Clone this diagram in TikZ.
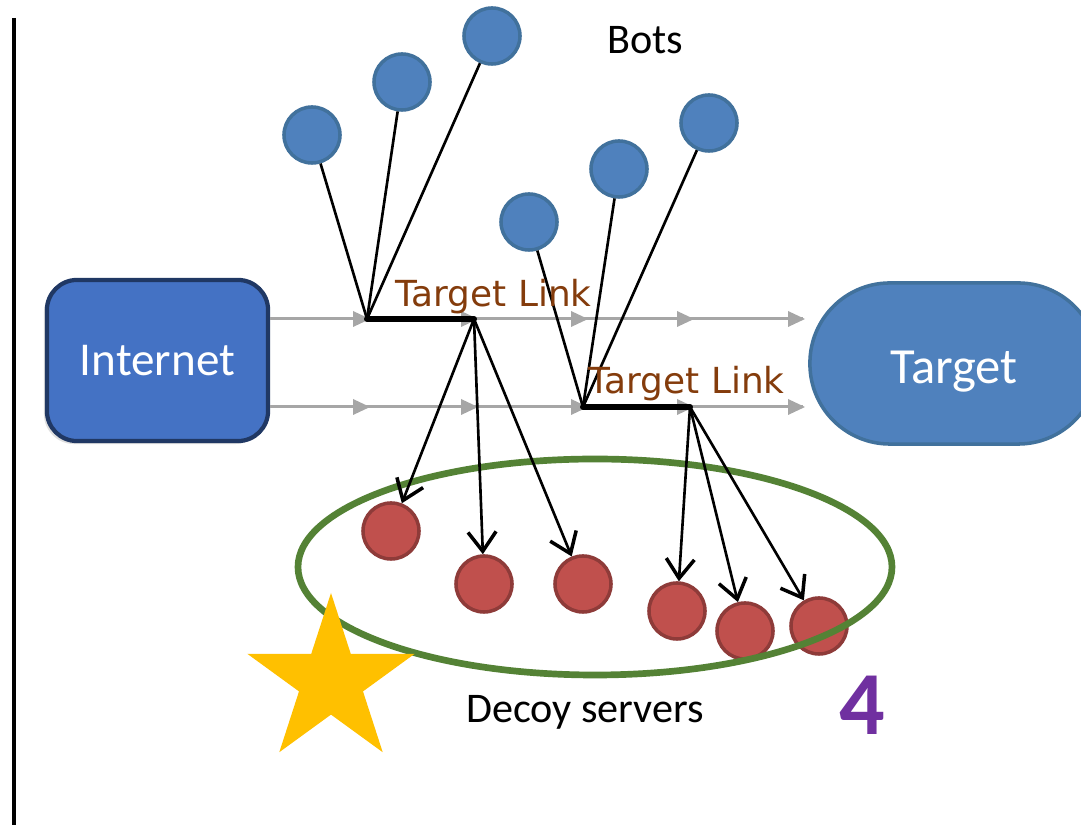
\documentclass[tikz,border=0pt]{standalone}
\usepackage{fontspec}
\usetikzlibrary{arrows.meta,shadows}
\newfontfamily\calib{Carlito}
\newfontfamily\dvs{DejaVu Sans}
\definecolor{inetfill}{HTML}{4472C4}
\definecolor{inetedge}{HTML}{203864}
\definecolor{blufill}{HTML}{4F81BD}
\definecolor{bluedge}{HTML}{41719C}
\definecolor{redfill}{HTML}{C0504D}
\definecolor{rededge}{HTML}{8E3B39}
\definecolor{linkbrown}{HTML}{843C0C}
\definecolor{flowgray}{HTML}{A6A6A6}
\definecolor{setgreen}{HTML}{548235}
\definecolor{stargold}{HTML}{FFC000}
\definecolor{numpurple}{HTML}{7030A0}
\tikzset{
  bot/.style={circle, fill=blufill, draw=bluedge, line width=1pt, minimum size=0.56cm, inner sep=0pt},
  decoy/.style={circle, fill=redfill, draw=rededge, line width=1pt, minimum size=0.56cm, inner sep=0pt},
  feed/.style={draw=black, line width=0.75pt},
  hop/.style={draw=black, line width=0.75pt, -{Straight Barb[length=5.5pt,width=8pt,line width=1pt]}},
  linkseg/.style={draw=black, line width=1.7pt, line cap=round},
  flow/.style={draw=flowgray, line width=0.85pt},
  linklabel/.style={anchor=base west, inner sep=0pt, text=linkbrown, font=\dvs\fontsize{10.2}{12}\selectfont},
  caption/.style={inner sep=0pt, font=\calib\fontsize{12}{14}\selectfont}
}
\begin{document}
\begin{tikzpicture}[x=0.01cm, y=-0.01cm]
\clip (0,0) rectangle (1081,825);
\fill[white] (0,0) rectangle (1081,825);

% frame rule on the left
\draw[line width=1.1pt] (14,18) -- (14,825);

% end hosts
\node[draw=inetedge, fill=inetfill, line width=1.2pt, rounded corners=0.3cm,
      minimum width=2.21cm, minimum height=1.61cm, inner sep=0pt,
      drop shadow={shadow xshift=-0.03cm, shadow yshift=-0.03cm, opacity=0.25},
      text=white, font=\calib\fontsize{13.4}{16}\selectfont] (inet) at (157.5,360.5) {Internet};
\node[draw=bluedge, fill=blufill, line width=1pt, rounded corners=0.8cm,
      minimum width=2.88cm, minimum height=1.61cm, inner sep=0pt,
      text=white, font=\calib\fontsize{14.4}{17}\selectfont] (tgt) at (954,363.5)
      {\raisebox{-5.6pt}[0pt][0pt]{Target}};

% traffic paths between the two hosts
\coordinate (f1s) at (inet.east |- 0,319);
\coordinate (f1e) at (803,319);
\coordinate (f2s) at (inet.east |- 0,407);
\coordinate (f2e) at (803,407);
\draw[flow] (f1s) -- (f1e);
\draw[flow] (f2s) -- (f2e);
\foreach \y in {319,407}{
  \foreach \x in {370,478,588,694,805}{
    \fill[flowgray] (\x,\y) -- ++(-17,-8) -- ++(0,16) -- cycle;
  }
}

% bots
\node[bot] (b1) at (312,135) {};
\node[bot] (b2) at (402,82) {};
\node[bot] (b3) at (492,36) {};
\node[bot] (b4) at (529,222) {};
\node[bot] (b5) at (619,169) {};
\node[bot] (b6) at (709,123) {};

% target links
\coordinate (j1a) at (367,319);
\coordinate (j1b) at (474,319);
\coordinate (j2a) at (583,407);
\coordinate (j2b) at (690,407);

\draw[feed] (b1) -- (j1a);
\draw[feed] (b2) -- (j1a);
\draw[feed] (b3) -- (j1a);
\draw[feed] (b4) -- (j2a);
\draw[feed] (b5) -- (j2a);
\draw[feed] (b6) -- (j2a);

\draw[linkseg] (j1a) -- (j1b);
\draw[linkseg] (j2a) -- (j2b);

\node[linklabel] (tl1) at (395,307) {Target Link};
\node[linklabel] (tl2) at (588,394) {Target Link};

% decoy servers
\node[decoy] (d1) at (391,531) {};
\node[decoy] (d2) at (484,584) {};
\node[decoy] (d3) at (583,584) {};
\node[decoy] (d4) at (677,611) {};
\node[decoy] (d5) at (745,631) {};
\node[decoy] (d6) at (819,626) {};

% decoy group
\draw[setgreen, line width=1.9pt] (595,567) ellipse [x radius=297, y radius=108];

\draw[hop] (j1b) -- (d1);
\draw[hop] (j1b) -- (d2);
\draw[hop] (j1b) -- (d3);
\draw[hop] (j2b) -- (d4);
\draw[hop] (j2b) -- (d5);
\draw[hop] (j2b) -- (d6);

% star marker
\fill[stargold] (331,593) -- (350.75,653.8) -- (414.7,653.8) -- (363,691.4)
  -- (382.7,752.2) -- (331,714.6) -- (279.3,752.2) -- (299,691.4)
  -- (247.3,653.8) -- (311.25,653.8) -- cycle;

% captions
\node[caption] (botcap) at (645,40) {Bots};
\node[caption] (decap) at (585,712) {Decoy servers};
\node[inner sep=0pt, text=numpurple, font=\calib\bfseries\fontsize{25.6}{30}\selectfont] (num) at (862,705) {4};
\end{tikzpicture}
\end{document}
